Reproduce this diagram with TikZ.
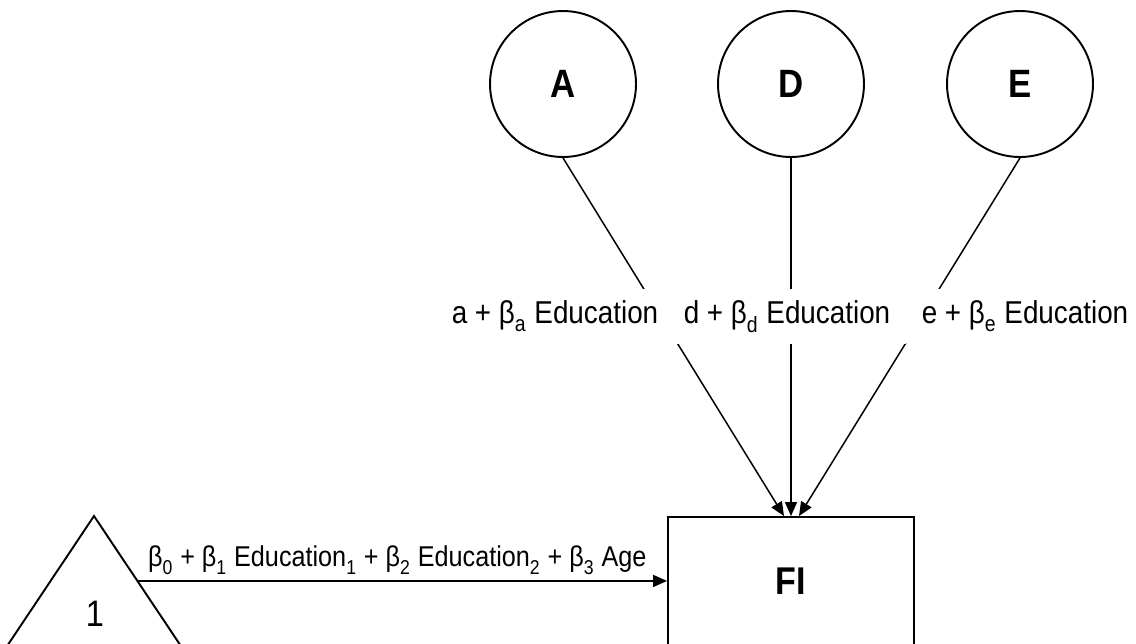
\documentclass[tikz,border=0pt]{standalone}
\usepackage{fontspec}
\setmainfont{Liberation Sans}[FakeStretch=0.88]
\usetikzlibrary{shapes.geometric, arrows.meta, positioning, calc}
\newcommand{\lowsub}[1]{\raisebox{-0.12em}{\textsubscript{#1}}}
\tikzset{
    % Latent variance components
    latent/.style={
        circle,
        draw=black,
        line width=1.1pt,
        minimum size=2.92cm,
        inner sep=0pt,
        font=\fontsize{22.5}{26}\selectfont\bfseries
    },
    % Observed measure
    observed/.style={
        rectangle,
        draw=black,
        line width=1.1pt,
        minimum width=4.92cm,
        minimum height=2.56cm,
        font=\fontsize{22}{26}\selectfont\bfseries
    },
    constant/.style={
        line width=1.1pt,
        black
    },
    path label/.style={
        fill=white,
        inner xsep=0.32cm,
        inner ysep=0.22cm,
        font=\fontsize{18}{22}\selectfont
    },
    arrow style/.style={
        -{Triangle[length=0.28cm, width=0.24cm]},
        line width=0.85pt,
        black
    }
}

\begin{document}
\begin{tikzpicture}[x=0.02cm, y=-0.02cm]
    \useasboundingbox (0,0) rectangle (1136,643);
    \clip (0,0) rectangle (1136,643);

    % Variance components
    \node[latent] (A) at (563,84) {A};
    \node[latent] (D) at (791,84) {D};
    \node[latent] (E) at (1020,84) {E};

    % Observed score
    \node[observed] (FI) at (791,581) {FI};

    % Constant (triangle)
    \draw[constant] (94,516) coordinate (apex) -- (-29,700) -- (217,700) coordinate (base right) -- cycle;
    \node[font=\fontsize{21}{24}\selectfont] (one) at (95,614) {1};
    \coordinate (one side) at ($(apex)!0.353!(base right)$);

    % Paths to FI
    \draw[arrow style] (A.south) -- ([xshift=-0.14cm]FI.north);
    \draw[arrow style] (D.south) -- (FI.north);
    \draw[arrow style] (E.south) -- ([xshift=0.16cm]FI.north);
    \draw[arrow style] (one side) -- (one side -| FI.west)
        node[midway, above, xshift=-0.1cm, font=\fontsize{16.3}{20}\selectfont] (mean label)
        {β\lowsub{0} + β\lowsub{1} Education\lowsub{1} + β\lowsub{2} Education\lowsub{2} + β\lowsub{3} Age};

    % Path labels
    \node[path label, anchor=base] (a label) at (555,323) {a + β\lowsub{a} Education};
    \node[path label, anchor=base] (d label) at (787,323) {d + β\lowsub{d} Education};
    \node[path label, anchor=base] (e label) at (1025,323) {e + β\lowsub{e} Education};
\end{tikzpicture}
\end{document}
